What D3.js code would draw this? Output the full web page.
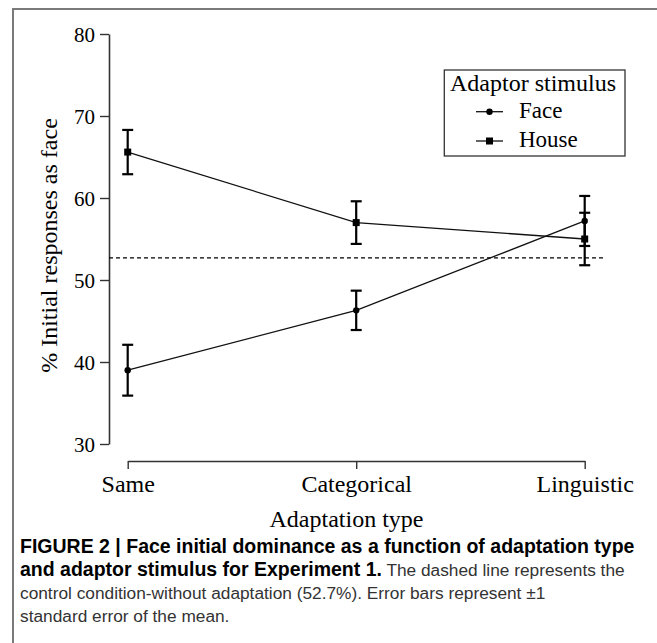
<!DOCTYPE html>
<html>
<head>
<meta charset="utf-8">
<script src="https://cdn.jsdelivr.net/npm/d3@7"></script>
<style>
  body { margin: 0; background: #fff; }
  #main svg { display: block; }
</style>
</head>
<body>
<div id="main"></div>
<script>
// Face initial dominance per adaptation type (Experiment 1)

// data
const categories = ["Same", "Categorical", "Linguistic"];
const faceMean  = [39.0, 46.3, 57.2];
const faceErr   = [3.1, 2.4, 3.05];
const houseMean = [65.6, 57.0, 55.0];
const houseErr  = [2.7, 2.6, 3.2];
const controlLevel = 52.7;
const yTicks = [30, 40, 50, 60, 70, 80];

const captionLines = [
  [{t: "FIGURE 2 | Face initial dominance as a function of adaptation type", b: true}],
  [{t: "and adaptor stimulus for Experiment 1.", b: true}, {t: " The dashed line represents the", b: false}],
  [{t: "control condition-without adaptation (52.7%). Error bars represent \u00b11", b: false}],
  [{t: "standard error of the mean.", b: false}]
];

// layout constants
const ctx = {
  width: 657,
  height: 643,
  axisX: 109,
  yTop: 34,
  yBottom: 444,
  xLeft: 127.7,
  xRight: 584.7,
  xAxisY: 461,
  serif: "'Liberation Serif', 'Times New Roman', Times, serif",
  sans: "'Liberation Sans', Arial, Helvetica, sans-serif"
};

function createViz() {
  const svg = d3.select("#main")
    .append("svg")
      .attr("width", ctx.width)
      .attr("height", ctx.height);

  svg.append("rect")
    .attr("width", ctx.width)
    .attr("height", ctx.height)
    .attr("fill", "#fff");

  // grey frame on the left and top
  svg.append("path")
    .attr("d", `M13,${ctx.height} V9 H${ctx.width}`)
    .attr("fill", "none")
    .attr("stroke", "#7a7a7a")
    .attr("stroke-width", 2);

  const y = d3.scaleLinear().domain([30, 80]).range([ctx.yBottom, ctx.yTop]);
  const x = d3.scalePoint().domain(categories).range([ctx.xLeft, ctx.xRight]);

  // y axis
  const yAxis = svg.append("g")
    .attr("transform", `translate(${ctx.axisX},0)`)
    .call(d3.axisLeft(y).tickValues(yTicks).tickSize(9).tickSizeOuter(0).tickPadding(5).tickFormat(d3.format("d")));
  yAxis.select(".domain").attr("stroke", "#333").attr("stroke-width", 1.6);
  yAxis.selectAll(".tick line").attr("stroke", "#333").attr("stroke-width", 1.4);
  yAxis.selectAll(".tick text")
    .attr("font-family", ctx.serif)
    .attr("font-size", 21)
    .attr("fill", "#000")
    .attr("dy", "0.34em");

  // x axis (bracket between first and last category)
  const xAxis = svg.append("g")
    .attr("transform", `translate(0,${ctx.xAxisY})`)
    .call(d3.axisBottom(x).tickSize(8).tickSizeOuter(0));
  xAxis.select(".domain").attr("stroke", "#333").attr("stroke-width", 1.6);
  xAxis.selectAll(".tick line").attr("stroke", "#333").attr("stroke-width", 1.4);
  xAxis.selectAll(".tick text")
    .attr("font-family", ctx.serif)
    .attr("font-size", 24)
    .attr("fill", "#000")
    .attr("y", 31)
    .attr("dy", 0);

  // axis titles
  svg.append("text")
    .attr("transform", "translate(57,245.5) rotate(-90)")
    .attr("text-anchor", "middle")
    .attr("font-family", ctx.serif)
    .attr("font-size", 24)
    .text("% Initial responses as face");

  svg.append("text")
    .attr("x", 346.5)
    .attr("y", 527)
    .attr("text-anchor", "middle")
    .attr("font-family", ctx.serif)
    .attr("font-size", 24)
    .text("Adaptation type");

  // control condition
  svg.append("line")
    .attr("x1", ctx.axisX)
    .attr("x2", x("Linguistic") + 19)
    .attr("y1", y(controlLevel))
    .attr("y2", y(controlLevel))
    .attr("stroke", "#000")
    .attr("stroke-width", 1.2)
    .attr("stroke-dasharray", "4,3");

  const face  = categories.map((c, i) => ({cat: c, m: faceMean[i],  e: faceErr[i]}));
  const house = categories.map((c, i) => ({cat: c, m: houseMean[i], e: houseErr[i]}));

  const line = d3.line().x(d => x(d.cat)).y(d => y(d.m));

  [face, house].forEach(function(series) {
    svg.append("path")
      .datum(series)
      .attr("d", line)
      .attr("fill", "none")
      .attr("stroke", "#111")
      .attr("stroke-width", 1.3);

    const bars = svg.append("g")
      .attr("stroke", "#000")
      .attr("stroke-width", 2.2)
      .selectAll("g")
      .data(series)
      .join("g");
    bars.append("line")
      .attr("x1", d => x(d.cat)).attr("x2", d => x(d.cat))
      .attr("y1", d => y(d.m + d.e)).attr("y2", d => y(d.m - d.e));
    bars.append("line")
      .attr("x1", d => x(d.cat) - 5.5).attr("x2", d => x(d.cat) + 5.5)
      .attr("y1", d => y(d.m + d.e)).attr("y2", d => y(d.m + d.e));
    bars.append("line")
      .attr("x1", d => x(d.cat) - 5.5).attr("x2", d => x(d.cat) + 5.5)
      .attr("y1", d => y(d.m - d.e)).attr("y2", d => y(d.m - d.e));
  });

  svg.append("g").selectAll("circle")
    .data(face)
    .join("circle")
      .attr("cx", d => x(d.cat))
      .attr("cy", d => y(d.m))
      .attr("r", 3.2)
      .attr("fill", "#000");

  svg.append("g").selectAll("rect")
    .data(house)
    .join("rect")
      .attr("x", d => x(d.cat) - 3.5)
      .attr("y", d => y(d.m) - 3.5)
      .attr("width", 7)
      .attr("height", 7)
      .attr("fill", "#000");

  // legend
  const legend = svg.append("g");
  legend.append("rect")
    .attr("x", 444.3).attr("y", 70)
    .attr("width", 180.7).attr("height", 86)
    .attr("fill", "#fff")
    .attr("stroke", "#333")
    .attr("stroke-width", 1.3);
  legend.append("text")
    .attr("x", 450).attr("y", 91)
    .attr("font-family", ctx.serif)
    .attr("font-size", 24)
    .text("Adaptor stimulus");

  const rows = [{name: "Face", cy: 111.7, shape: "circle"}, {name: "House", cy: 141, shape: "square"}];
  rows.forEach(function(r) {
    legend.append("line")
      .attr("x1", 476).attr("x2", 503)
      .attr("y1", r.cy).attr("y2", r.cy)
      .attr("stroke", "#111").attr("stroke-width", 1.3);
    if (r.shape == "circle") {
      legend.append("circle").attr("cx", 489.5).attr("cy", r.cy).attr("r", 3.2);
    } else {
      legend.append("rect").attr("x", 486).attr("y", r.cy - 3.5).attr("width", 7).attr("height", 7);
    }
    legend.append("text")
      .attr("x", 519).attr("y", r.cy + 6)
      .attr("font-family", ctx.serif)
      .attr("font-size", 23)
      .text(r.name);
  });

  // caption: bold title runs a bit larger than the body text
  const caption = svg.append("g")
    .attr("font-family", ctx.sans);
  captionLines.forEach(function(parts, i) {
    const t = caption.append("text")
      .attr("x", 20)
      .attr("y", 553 + i * 23);
    parts.forEach(function(p) {
      t.append("tspan")
        .attr("font-weight", p.b ? "bold" : "normal")
        .attr("font-size", p.b ? 19.5 : 17.3)
        .attr("fill", p.b ? "#000" : "#333")
        .text(p.t);
    });
  });
}

createViz();
</script>
</body>
</html>
